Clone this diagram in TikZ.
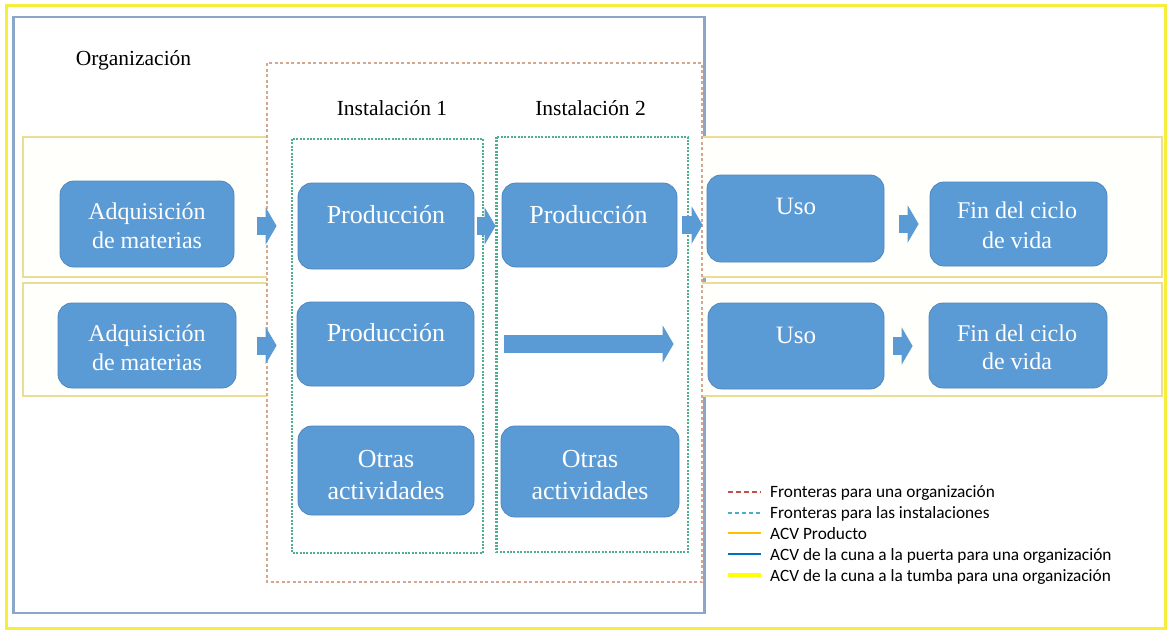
\documentclass[tikz,border=0pt]{standalone}
\usepackage{fontspec}
\setmainfont{Liberation Serif}
\newfontfamily\legfont{Carlito}
\usetikzlibrary{arrows.meta}
\definecolor{boxblue}{HTML}{5B9BD5}
\definecolor{boxedge}{HTML}{4F86BE}
\definecolor{arrowblue}{HTML}{5B9BD5}
\definecolor{outeryellow}{HTML}{F6EE3A}
\definecolor{orgblue}{HTML}{8CA6C8}
\definecolor{rowyellow}{HTML}{EBDC96}
\definecolor{rowfill}{HTML}{FFFFFB}
\definecolor{orgdot}{HTML}{D4A890}
\definecolor{instdot}{HTML}{4FAE8C}
\definecolor{legred}{HTML}{C0504D}
\definecolor{legteal}{HTML}{4BACC6}
\definecolor{legorange}{HTML}{FFC000}
\definecolor{legblue}{HTML}{0070C0}
\definecolor{legyellow}{HTML}{FFFF00}
\begin{document}
\begin{tikzpicture}[x=1pt,y=-1pt,
  box/.style={rounded corners=14pt, fill=boxblue, draw=boxedge, line width=0.8pt, inner sep=0pt},
  lbl/.style={text=white, anchor=base, inner sep=0pt, font=\fontsize{25}{30}\selectfont},
  lblb/.style={lbl, font=\fontsize{26}{30}\selectfont},
  lbls/.style={lbl, font=\fontsize{24}{30}\selectfont},
  head/.style={text=black, anchor=base, inner sep=0pt, font=\fontsize{21.5}{26}\selectfont},
  fat/.style={draw=arrowblue, line width=18pt, -{Triangle[length=11pt,width=37pt]}},
  leg/.style={anchor=base west, inner sep=0pt, font=\legfont\fontsize{17.3}{20}\selectfont},
  orgline/.style={draw=orgdot, line width=2.4pt, dash pattern=on 3pt off 2.5pt},
  instline/.style={draw=instdot, line width=2.2pt, dash pattern=on 2pt off 1.4pt}]
\fill[white] (0,0) rectangle (1169,632);
\useasboundingbox (0,0) rectangle (1169,632);
% outer frame (cradle to grave)
\draw[outeryellow, line width=3pt] (6.5,5) rectangle (1165,628);
% organization frame (cradle to gate)
\draw[orgblue, line width=2.2pt] (13.5,17) rectangle (704.5,613);
% product LCA rows
\draw[rowyellow, fill=rowfill, line width=2.2pt] (23,137) rectangle (1162,277);
\draw[rowyellow, fill=rowfill, line width=2.2pt] (23,283) rectangle (1162,396);
% organization boundary
\fill[white] (267,63) rectangle (702,582);
\draw[orgline] (267,63) rectangle (702,582);
% installations
\draw[instline] (292,139) rectangle (483,553);
\draw[instline] (496.5,137) rectangle (688,552);
% headings
\node[head] (horg) at (133.5,65) {Organización};
\node[head] (hi1) at (392,115) {Instalación 1};
\node[head] (hi2) at (590.5,115) {Instalación 2};
% boxes
\node[box, minimum width=174pt, minimum height=86pt] (a1) at (147,224) {};
\node[box, minimum width=176pt, minimum height=86pt] (p1) at (386,226) {};
\node[box, minimum width=175pt, minimum height=84pt] (q1) at (589.5,225) {};
\node[box, minimum width=177pt, minimum height=87pt] (u1) at (795.5,218.5) {};
\node[box, minimum width=177pt, minimum height=84pt] (f1) at (1018.5,224) {};
\node[box, minimum width=178pt, minimum height=85pt] (a2) at (147,345.5) {};
\node[box, minimum width=177pt, minimum height=84pt] (p2) at (385.5,344) {};
\node[box, minimum width=176pt, minimum height=86pt] (u2) at (796,346) {};
\node[box, minimum width=178pt, minimum height=85pt] (f2) at (1018,345.5) {};
\node[box, minimum width=176pt, minimum height=89pt] (o1) at (386,470.5) {};
\node[box, minimum width=178pt, minimum height=91pt] (o2) at (590,471.5) {};
% labels
\node[lbls] (ta1a) at (147,219) {Adquisición};
\node[lbls] (ta1b) at (147,248.5) {de materias};
\node[lblb] (tp1) at (386,223) {Producción};
\node[lblb] (tq1) at (588.5,223) {Producción};
\node[lbl] (tu1) at (796,214) {Uso};
\node[lbls] (tf1a) at (1017,218) {Fin del ciclo};
\node[lbls] (tf1b) at (1017,248) {de vida};
\node[lbls] (ta2a) at (147,341) {Adquisición};
\node[lbls] (ta2b) at (147,370) {de materias};
\node[lblb] (tp2) at (386,341) {Producción};
\node[lbl] (tu2) at (796,343) {Uso};
\node[lbls] (tf2a) at (1017,341) {Fin del ciclo};
\node[lbls] (tf2b) at (1017,369.5) {de vida};
\node[lblb] (to1a) at (386,467) {Otras};
\node[lblb] (to1b) at (386,499) {actividades};
\node[lblb] (to2a) at (590,467) {Otras};
\node[lblb] (to2b) at (590,499) {actividades};
% block arrows
\draw[fat, shorten <=23pt, shorten >=21pt] (a1.east |- p1.west) -- (p1.west);
\draw[fat, shorten <=3pt, shorten >=6pt] (p1.east) -- (p1.east -| q1.west);
\draw[fat, shorten <=5pt, shorten >=4pt] (q1.east) -- (q1.east -| u1.west);
\draw[fat, shorten <=15pt, shorten >=11pt] (u1.east |- f1.west) -- (f1.west);
\draw[fat, shorten <=21pt, shorten >=20pt] (a2.east) -- (a2.east -| p2.west);
\draw[fat, shorten <=30pt, shorten >=34pt] (p2.east) -- (p2.east -| u2.west);
\draw[fat, shorten <=9pt, shorten >=16pt] (u2.east) -- (u2.east -| f2.west);
% legend
\coordinate (l1a) at (728,492); \coordinate (l1b) at (761,492);
\coordinate (l2a) at (728,513); \coordinate (l2b) at (761,513);
\coordinate (l3a) at (728,533); \coordinate (l3b) at (761,533);
\coordinate (l4a) at (728,554); \coordinate (l4b) at (761,554);
\coordinate (l5a) at (728,575); \coordinate (l5b) at (761,575);
\draw[legred, line width=2.2pt, dash pattern=on 5pt off 3pt] (l1a) -- (l1b);
\draw[legteal, line width=2pt, dash pattern=on 4pt off 3pt] (l2a) -- (l2b);
\draw[legorange, line width=2pt] (l3a) -- (l3b);
\draw[legblue, line width=2pt] (l4a) -- (l4b);
\draw[legyellow, line width=3.5pt] (l5a) -- (l5b);
\node[leg] (g1) at (770,497) {Fronteras para una organización};
\node[leg] (g2) at (770,518) {Fronteras para las instalaciones};
\node[leg] (g3) at (770,539) {ACV Producto};
\node[leg] (g4) at (770,560) {ACV de la cuna a la puerta para una organización};
\node[leg] (g5) at (770,581) {ACV de la cuna a la tumba para una organización};
\end{tikzpicture}
\end{document}
